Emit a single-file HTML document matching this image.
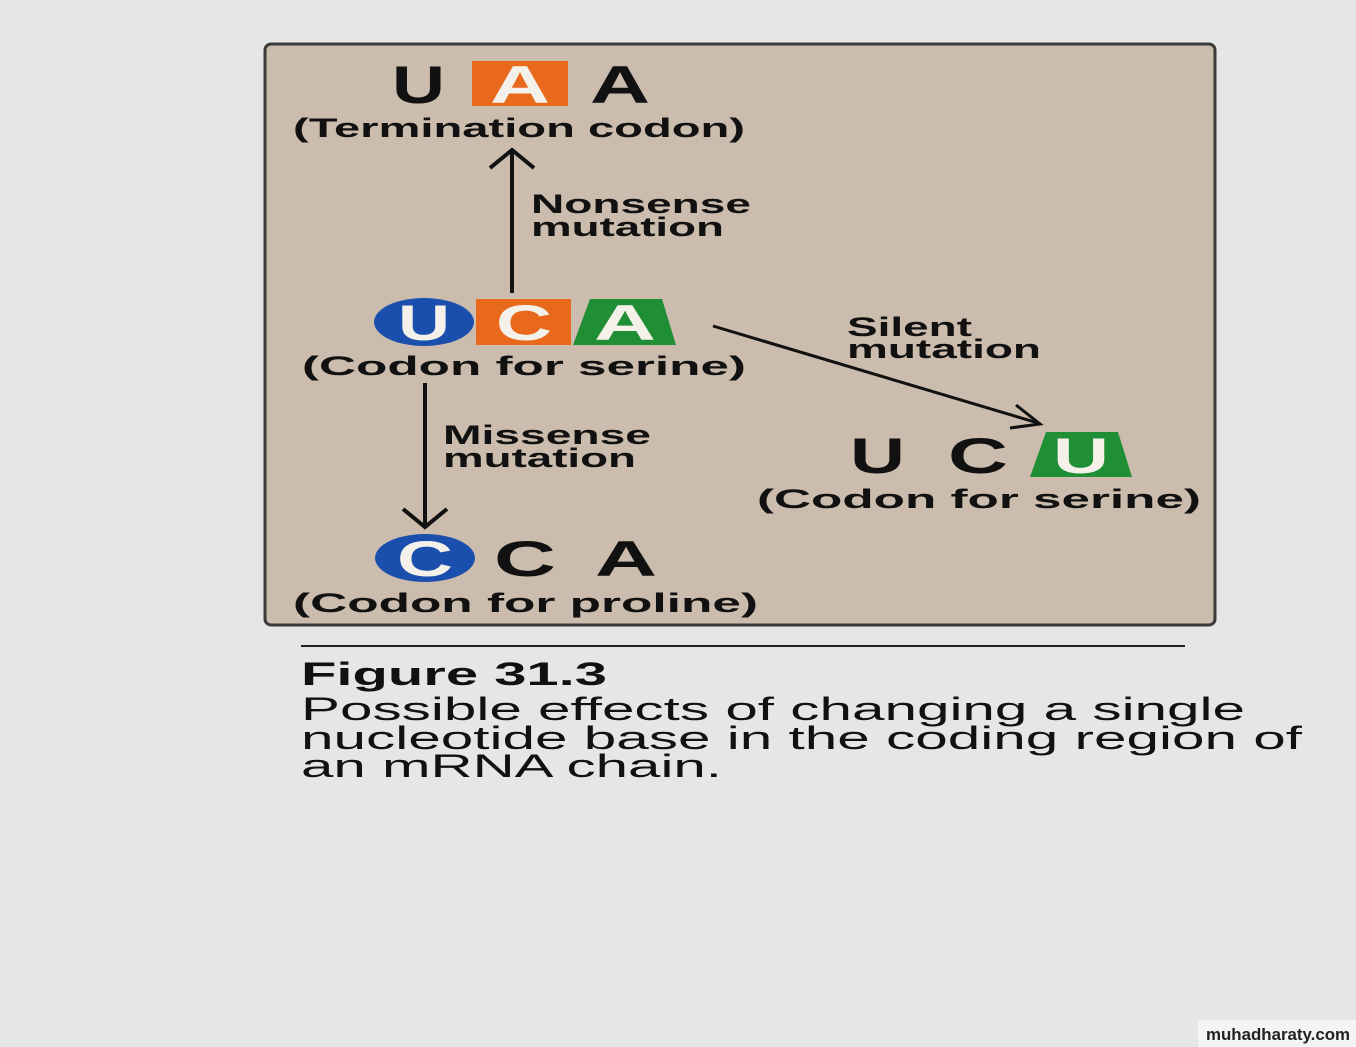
<!DOCTYPE html>
<html><head><meta charset="utf-8"><style>
html,body{margin:0;padding:0;background:#e6e6e6;}
svg{display:block;}
text{font-family:"Liberation Sans",sans-serif;}
</style></head><body>
<svg width="1356" height="1047" viewBox="0 0 1356 1047" xmlns="http://www.w3.org/2000/svg">
<rect width="1356" height="1047" fill="#e6e6e6"/>
<rect x="265" y="44" width="950" height="581" rx="6" fill="#cbbcad" stroke="#3a3a3a" stroke-width="3"/>
<defs><marker id="ah" markerWidth="10" markerHeight="10" refX="8" refY="5" orient="auto" markerUnits="userSpaceOnUse" viewBox="0 0 10 10"><path d="M0,0 L9,5 L0,10" fill="none" stroke="#111" stroke-width="2"/></marker></defs>
<g font-weight="bold" fill="#111">
<!-- UAA -->
<text x="392" y="103" font-size="53" textLength="53" lengthAdjust="spacingAndGlyphs">U</text>
<rect x="472" y="61" width="96" height="45" fill="#e8681c"/>
<text x="490" y="103" font-size="53" fill="#f4f0ea" textLength="60" lengthAdjust="spacingAndGlyphs">A</text>
<text x="590" y="103" font-size="53" textLength="60" lengthAdjust="spacingAndGlyphs">A</text>
<text x="293" y="137" font-size="27" textLength="452" lengthAdjust="spacingAndGlyphs">(Termination codon)</text>
<!-- up arrow -->
<line x1="512" y1="293" x2="512" y2="152" stroke="#111" stroke-width="4"/>
<path d="M490,168 L512,150 L534,168" fill="none" stroke="#111" stroke-width="4"/>
<text x="531" y="213" font-size="27" textLength="220" lengthAdjust="spacingAndGlyphs">Nonsense</text>
<text x="531" y="236" font-size="27" textLength="193" lengthAdjust="spacingAndGlyphs">mutation</text>
<!-- UCA -->
<ellipse cx="424" cy="322" rx="50" ry="24" fill="#1a4fae"/>
<text x="398" y="340" font-size="50" fill="#f4f0ea" textLength="52" lengthAdjust="spacingAndGlyphs">U</text>
<rect x="476" y="299" width="95" height="46" fill="#e8681c"/>
<text x="496" y="340" font-size="50" fill="#f4f0ea" textLength="56" lengthAdjust="spacingAndGlyphs">C</text>
<path d="M590,299 L662,299 L676,345 L573,345 Z" fill="#1f8e35"/>
<text x="594" y="340" font-size="50" fill="#f4f0ea" textLength="62" lengthAdjust="spacingAndGlyphs">A</text>
<text x="302" y="375" font-size="27" textLength="444" lengthAdjust="spacingAndGlyphs">(Codon for serine)</text>
<!-- down arrow -->
<line x1="425" y1="383" x2="425" y2="525" stroke="#111" stroke-width="4"/>
<path d="M403,509 L425,527 L447,509" fill="none" stroke="#111" stroke-width="4"/>
<text x="443" y="444" font-size="27" textLength="208" lengthAdjust="spacingAndGlyphs">Missense</text>
<text x="443" y="467" font-size="27" textLength="193" lengthAdjust="spacingAndGlyphs">mutation</text>
<!-- diagonal -->
<line x1="713" y1="326" x2="1038" y2="423" stroke="#111" stroke-width="3"/>
<path d="M1016,405 L1040,424 L1010,428" fill="none" stroke="#111" stroke-width="3"/>
<text x="847" y="336" font-size="27" textLength="125" lengthAdjust="spacingAndGlyphs">Silent</text>
<text x="847" y="358" font-size="27" textLength="194" lengthAdjust="spacingAndGlyphs">mutation</text>
<!-- UCU -->
<text x="850" y="473" font-size="50" textLength="55" lengthAdjust="spacingAndGlyphs">U</text>
<text x="948" y="473" font-size="50" textLength="60" lengthAdjust="spacingAndGlyphs">C</text>
<path d="M1046,432 L1118,432 L1132,477 L1030,477 Z" fill="#1f8e35"/>
<text x="1053" y="473" font-size="50" fill="#f4f0ea" textLength="56" lengthAdjust="spacingAndGlyphs">U</text>
<text x="757" y="508" font-size="27" textLength="444" lengthAdjust="spacingAndGlyphs">(Codon for serine)</text>
<!-- CCA -->
<ellipse cx="425" cy="558" rx="50" ry="24" fill="#1a4fae"/>
<text x="397" y="576" font-size="50" fill="#f4f0ea" textLength="56" lengthAdjust="spacingAndGlyphs">C</text>
<text x="494" y="576" font-size="50" textLength="62" lengthAdjust="spacingAndGlyphs">C</text>
<text x="595" y="576" font-size="50" textLength="62" lengthAdjust="spacingAndGlyphs">A</text>
<text x="293" y="612" font-size="27" textLength="465" lengthAdjust="spacingAndGlyphs">(Codon for proline)</text>
</g>
<line x1="301" y1="646" x2="1185" y2="646" stroke="#222" stroke-width="2"/>
<text x="301" y="685" font-size="32" font-weight="bold" fill="#111" textLength="306" lengthAdjust="spacingAndGlyphs">Figure 31.3</text>
<g font-size="32" fill="#111">
<text x="301" y="720" textLength="944" lengthAdjust="spacingAndGlyphs">Possible effects of changing a single</text>
<text x="301" y="749" textLength="1001" lengthAdjust="spacingAndGlyphs">nucleotide base in the coding region of</text>
<text x="301" y="777" textLength="421" lengthAdjust="spacingAndGlyphs">an mRNA chain.</text>
</g>
<rect x="1198" y="1020" width="158" height="27" fill="#f4f4f4"/>
<text x="1206" y="1040" font-size="17" font-weight="bold" fill="#222" textLength="144" lengthAdjust="spacingAndGlyphs">muhadharaty.com</text>
</svg>
</body></html>
